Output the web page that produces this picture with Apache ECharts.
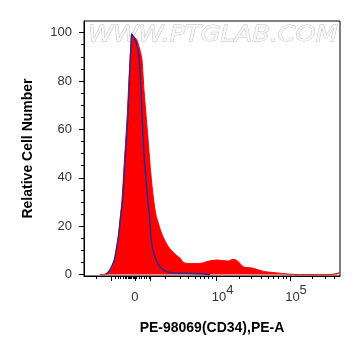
<!DOCTYPE html>
<html><head><meta charset="utf-8">
<script src="https://cdn.jsdelivr.net/npm/echarts@6/dist/echarts.min.js"></script>
<style>html,body{margin:0;padding:0;background:#fff}#c{width:361px;height:356px}</style>
</head><body><div id="c"></div>
<script>
// x positions are in display units of the biexponential axis (10^4 at 4, 10^5 at 5)
const redX = [2.408,2.476,2.544,2.585,2.636,2.681,2.708,2.742,2.780,2.810,2.831,2.849,2.872,2.909,2.940,2.960,2.981,3.008,3.042,3.070,3.097,3.124,3.149,3.172,3.199,3.233,3.267,3.318,3.363,3.411,3.454,3.499,3.544,3.591,3.677,3.772,3.864,3.936,4.000,4.072,4.158,4.226,4.263,4.295,4.363,4.427,4.499,4.591,4.659,4.795,4.977,5.113,5.546,5.600,5.641,5.682];
const redY = [0,0.2,1.4,3.5,10.1,22.6,30.8,47.4,66,84.7,95,98.6,98.3,97.1,94.2,92.1,88.8,76.4,64,53.6,43.3,35,28.8,24.6,21.7,18.4,15.7,12.6,10.6,9.1,7.9,6.8,5.1,4.6,4.55,4.6,5.3,5.8,6.0,5.8,5.6,6.3,6.0,5.3,3.2,2.9,2.6,1.7,1.2,0.75,0.2,0,0,0.2,0.5,0.75];
const blueX = [2.490,2.544,2.603,2.640,2.667,2.694,2.718,2.749,2.786,2.810,2.831,2.840,2.865,2.892,2.913,2.944,2.967,2.985,3.014,3.042,3.067,3.087,3.100,3.124,3.158,3.192,3.226,3.267,3.318,3.390,3.568,3.772,3.864,3.909];
const blueY = [0,1.9,6.0,12.2,17.2,24.6,30.8,46.6,64,80.5,95,99.4,98.3,96.7,95,88.8,76.4,64,47.4,37,28.8,22.6,17.2,11.0,7.4,4.8,3.2,2.1,1.2,0.75,0.5,0.35,0.1,0];
const xMajorTicks = [2.558,2.885,3.090,4,5];
const xMinorTicks = [2.363,2.613,2.658,2.690,2.726,2.749,2.772,2.790,2.808,2.824,2.840,2.858,2.872,2.906,2.940,2.974,3.008,3.042,3.076,3.295,3.499,3.613,3.704,3.772,3.836,3.885,3.943,4.301,4.477,4.602,4.699,4.778,4.845,4.903,4.954,5.301,5.477,5.602];
const xLabelValues = [2.885,4,5];
const xLabelTexts = ['{b|0}','{sp| }{b|10}{sup|4}','{sp| }{b|10}{sup|5}'];
const yLabels = [0,20,40,60,80,100];
const yMinorTicks = [5,10,15,25,30,35,45,50,55,65,70,75,85,90,95];
const xTitle = 'PE-98069(CD34),PE-A';
const yTitle = 'Relative Cell Number';
const watermark = 'WWW.PTGLAB.COM';

const chart = echarts.init(document.getElementById('c'), null, {renderer:'canvas'});
const XMIN = 2.19, XMAX = 5.682, YMIN = -0.6, YMAX = 104.8;
const font = '"Liberation Sans", Arial, sans-serif';
const redData = redX.map((x,i)=>[x, redY[i]]);
const blueData = blueX.map((x,i)=>[x, blueY[i]]);
chart.setOption({
  animation:false,
  backgroundColor:'#fff',
  graphic:[{type:'text', x:88, y:24, scaleX:1.16, z:-1, silent:true,
    style:{text:watermark, font:'italic 22px "DejaVu Sans"', fill:'#f8f8f8', stroke:'#bdbdbd', lineWidth:0.8}}],
  grid:{left:84, right:21, top:21, bottom:80, show:true, borderColor:'#000', borderWidth:1, backgroundColor:'transparent'},
  xAxis:[{
    type:'value', min:XMIN, max:XMAX, position:'bottom',
    axisLine:{show:true, onZero:false, lineStyle:{color:'#000', width:1}},
    axisTick:{show:true, customValues:xMajorTicks, length:5, lineStyle:{color:'#000', width:1}},
    axisLabel:{customValues:xLabelValues, margin:8, color:'#333', fontFamily:font, fontSize:13,
      formatter:(v)=>{let k=0,d=1e9;xLabelValues.forEach((x,i)=>{if(Math.abs(x-v)<d){d=Math.abs(x-v);k=i;}});return xLabelTexts[k];},
      rich:{
        b:{fontSize:13, color:'#333', fontFamily:font, padding:[7,0,0,0]},
        sup:{fontSize:13, color:'#333', fontFamily:font, padding:[0,0,7,0]},
        sp:{width:12, fontSize:13}
      }},
    splitLine:{show:false},
    name:xTitle, nameLocation:'middle', nameGap:45,
    nameTextStyle:{fontFamily:font, fontWeight:'bold', fontSize:14, color:'#000'}
  },{
    type:'value', min:XMIN, max:XMAX, position:'bottom',
    axisLine:{show:false, onZero:false},
    axisTick:{show:true, customValues:xMinorTicks, length:3, lineStyle:{color:'#000', width:1}},
    axisLabel:{show:false}, splitLine:{show:false}
  }],
  yAxis:[{
    type:'value', min:YMIN, max:YMAX, position:'left',
    axisLine:{show:true, onZero:false, lineStyle:{color:'#000', width:1}},
    axisTick:{show:true, customValues:yLabels, length:5, lineStyle:{color:'#000', width:1}},
    axisLabel:{customValues:yLabels, margin:12, color:'#333', fontFamily:font, fontSize:13},
    splitLine:{show:false},
    name:yTitle, nameLocation:'middle', nameGap:49,
    nameTextStyle:{fontFamily:font, fontWeight:'bold', fontSize:14, color:'#000'}
  },{
    type:'value', min:YMIN, max:YMAX, position:'left',
    axisLine:{show:false, onZero:false},
    axisTick:{show:true, customValues:yMinorTicks, length:3, lineStyle:{color:'#000', width:1}},
    axisLabel:{show:false}, splitLine:{show:false}
  }],
  series:[{
    type:'line', xAxisIndex:0, yAxisIndex:0, data:redData, smooth:0.25, showSymbol:false,
    lineStyle:{color:'#ff0000', width:1}, areaStyle:{color:'#ff0000', opacity:1}, z:2
  },{
    type:'line', xAxisIndex:0, yAxisIndex:0, data:blueData, smooth:0.25, showSymbol:false,
    lineStyle:{color:'#2e2a8c', width:1.5}, z:3
  }]
});
</script></body></html>
